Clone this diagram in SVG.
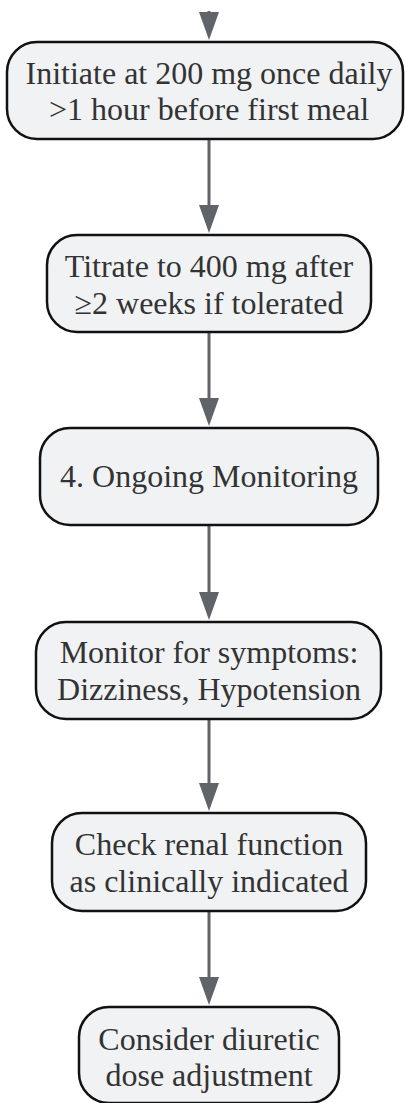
<svg xmlns="http://www.w3.org/2000/svg" width="405" height="1103" viewBox="0 0 405 1103">
<style>
.node rect{fill:#f1f2f4;stroke:#111;stroke-width:2.5}
.node text{font-family:"Liberation Serif","Times New Roman",serif;font-size:32px;fill:#333;text-anchor:middle}
.edge{fill:none;stroke:#60636a;stroke-width:3}
</style>
<defs>
<marker id="arrow" viewBox="0 0 28 20" refX="0" refY="10" markerWidth="28" markerHeight="20" markerUnits="userSpaceOnUse" orient="auto">
<path d="M0,0 L28,10 L0,20 z" fill="#60636a"/>
</marker>
</defs>
<rect width="405" height="1103" fill="#fff"/>
<g id="connectors">
<path class="edge" d="M209,11 L209,12" marker-end="url(#arrow)"/>
<path class="edge" d="M209,140 L209,205" marker-end="url(#arrow)"/>
<path class="edge" d="M209,333 L209,398" marker-end="url(#arrow)"/>
<path class="edge" d="M209,526 L209,592" marker-end="url(#arrow)"/>
<path class="edge" d="M209,719 L209,783" marker-end="url(#arrow)"/>
<path class="edge" d="M209,912 L209,977" marker-end="url(#arrow)"/>
</g>
<g id="n1" class="node">
<rect x="7" y="42" width="396" height="97" rx="30" ry="30"/>
<text x="209" y="84">Initiate at 200 mg once daily</text>
<text x="209" y="120">&gt;1 hour before first meal</text>
</g>
<g id="n2" class="node">
<rect x="47" y="235" width="324" height="97" rx="30" ry="30"/>
<text x="209" y="277">Titrate to 400 mg after</text>
<text x="209" y="314">≥2 weeks if tolerated</text>
</g>
<g id="n3" class="node">
<rect x="40" y="428" width="338" height="97" rx="30" ry="30"/>
<text x="209" y="487">4. Ongoing Monitoring</text>
</g>
<g id="n4" class="node">
<rect x="36" y="622" width="345" height="97" rx="30" ry="30"/>
<text x="209" y="663">Monitor for symptoms:</text>
<text x="209" y="700">Dizziness, Hypotension</text>
</g>
<g id="n5" class="node">
<rect x="52" y="813" width="314" height="98" rx="30" ry="30"/>
<text x="209" y="855">Check renal function</text>
<text x="209" y="892">as clinically indicated</text>
</g>
<g id="n6" class="node">
<rect x="79" y="1007" width="260" height="96" rx="30" ry="30"/>
<text x="209" y="1050">Consider diuretic</text>
<text x="209" y="1086">dose adjustment</text>
</g>
</svg>
